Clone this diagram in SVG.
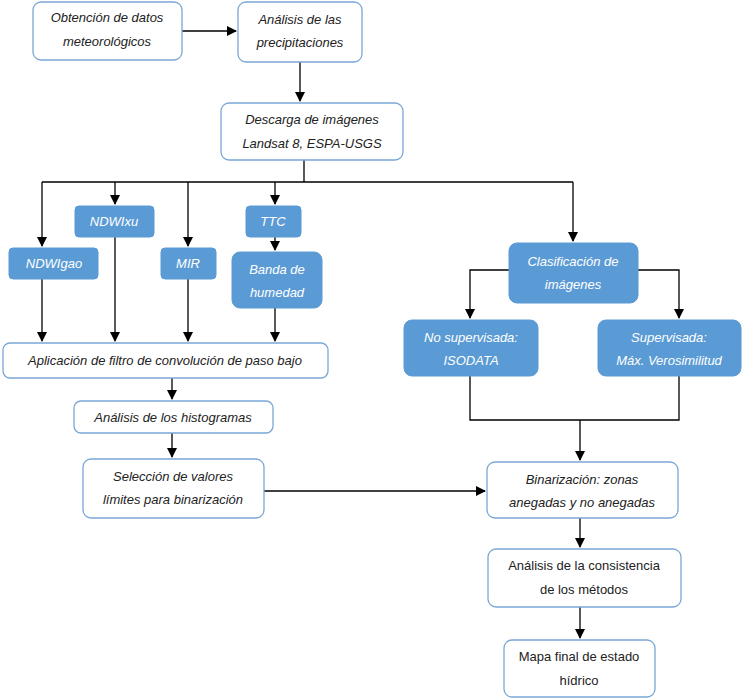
<svg xmlns="http://www.w3.org/2000/svg" width="742" height="700" viewBox="0 0 742 700">
<style>
.w{fill:#fff;stroke:#7aa7d6;stroke-width:1.3}
.b{fill:#5b9bd5;stroke:#5b9bd5}
text{font-family:"Liberation Sans",Arial,sans-serif;font-size:13px;text-anchor:middle;font-style:italic}
.tw{fill:#222}
.tb{fill:#fff}
.n{font-style:normal}
.c{fill:none;stroke:#000;stroke-width:1.3}
</style>
<defs><marker id="a" markerWidth="10" markerHeight="10" refX="9" refY="5" orient="auto" markerUnits="userSpaceOnUse"><path d="M0,0 L10,5 L0,10 z" fill="#000"/></marker></defs>
<rect width="742" height="700" fill="#fff"/>
<g id="connectors" class="c">
<path d="M182,31 H236" marker-end="url(#a)"/>
<path d="M300,62 V101" marker-end="url(#a)"/>
<path d="M304,160 V182 M42,182 H573"/>
<path d="M42,182 V246" marker-end="url(#a)"/>
<path d="M115,182 V204" marker-end="url(#a)"/>
<path d="M188,182 V246" marker-end="url(#a)"/>
<path d="M275,182 V204" marker-end="url(#a)"/>
<path d="M573,182 V241" marker-end="url(#a)"/>
<path d="M275,237 V250" marker-end="url(#a)"/>
<path d="M42,279 V341" marker-end="url(#a)"/>
<path d="M115,237 V341" marker-end="url(#a)"/>
<path d="M188,279 V341" marker-end="url(#a)"/>
<path d="M275,308 V341" marker-end="url(#a)"/>
<path d="M509,270 H470 V318" marker-end="url(#a)"/>
<path d="M638,270 H679 V318" marker-end="url(#a)"/>
<path d="M470,376 V420 H679 V376 M580,420 V460" marker-end="url(#a)"/>
<path d="M172,378 V399" marker-end="url(#a)"/>
<path d="M172,433 V457" marker-end="url(#a)"/>
<path d="M264,491 H485" marker-end="url(#a)"/>
<path d="M580,518 V547" marker-end="url(#a)"/>
<path d="M580,607 V638" marker-end="url(#a)"/>
</g>
<g id="n1"><rect class="w" x="33" y="2" width="149" height="58" rx="8"/><text class="tw" x="107" y="22">Obtención de datos</text><text class="tw" x="107" y="46">meteorológicos</text></g>
<g id="n2"><rect class="w" x="238" y="2" width="124" height="60" rx="8"/><text class="tw" x="300" y="24">Análisis de las</text><text class="tw" x="300" y="47">precipitaciones</text></g>
<g id="n3"><rect class="w" x="221" y="103" width="182" height="57" rx="8"/><text class="tw" x="312" y="124">Descarga de imágenes</text><text class="tw" x="312" y="148">Landsat 8, ESPA-USGS</text></g>
<g id="n4"><rect class="b" x="75" y="206" width="79" height="31" rx="4"/><text class="tb" x="114" y="226">NDWIxu</text></g>
<g id="n5"><rect class="b" x="9" y="248" width="89" height="31" rx="4"/><text class="tb" x="54" y="268">NDWIgao</text></g>
<g id="n6"><rect class="b" x="161" y="248" width="55" height="31" rx="4"/><text class="tb" x="188" y="268">MIR</text></g>
<g id="n7"><rect class="b" x="246" y="206" width="55" height="31" rx="4"/><text class="tb" x="273" y="226">TTC</text></g>
<g id="n8"><rect class="b" x="232" y="252" width="90" height="56" rx="8"/><text class="tb" x="277" y="274">Banda de</text><text class="tb" x="277" y="297">humedad</text></g>
<g id="n9"><rect class="w" x="3" y="343" width="325" height="35" rx="7"/><text class="tw" x="165" y="365">Aplicación de filtro de convolución de paso bajo</text></g>
<g id="n10"><rect class="b" x="509" y="243" width="129" height="60" rx="8"/><text class="tb" x="573" y="266">Clasificación de</text><text class="tb" x="573" y="289">imágenes</text></g>
<g id="n11"><rect class="b" x="404" y="320" width="134" height="56" rx="8"/><text class="tb" x="471" y="342">No supervisada:</text><text class="tb" x="471" y="365">ISODATA</text></g>
<g id="n12"><rect class="b" x="598" y="320" width="143" height="56" rx="8"/><text class="tb" x="669" y="342">Supervisada:</text><text class="tb" x="669" y="365">Máx. Verosimilitud</text></g>
<g id="n13"><rect class="w" x="74" y="401" width="199" height="32" rx="7"/><text class="tw" x="173" y="422">Análisis de los histogramas</text></g>
<g id="n14"><rect class="w" x="83" y="459" width="181" height="59" rx="8"/><text class="tw" x="173" y="481">Selección de valores</text><text class="tw" x="173" y="504">límites para binarización</text></g>
<g id="n15"><rect class="w" x="487" y="462" width="191" height="56" rx="8"/><text class="tw" x="582" y="484">Binarización: zonas</text><text class="tw" x="582" y="507">anegadas y no anegadas</text></g>
<g id="n16"><rect class="w" x="488" y="549" width="193" height="58" rx="8"/><text class="tw n" x="584" y="570">Análisis de la consistencia</text><text class="tw n" x="584" y="594">de los métodos</text></g>
<g id="n17"><rect class="w" x="504" y="640" width="151" height="57" rx="8"/><text class="tw n" x="579" y="661">Mapa final de estado</text><text class="tw n" x="579" y="685">hídrico</text></g>
</svg>
